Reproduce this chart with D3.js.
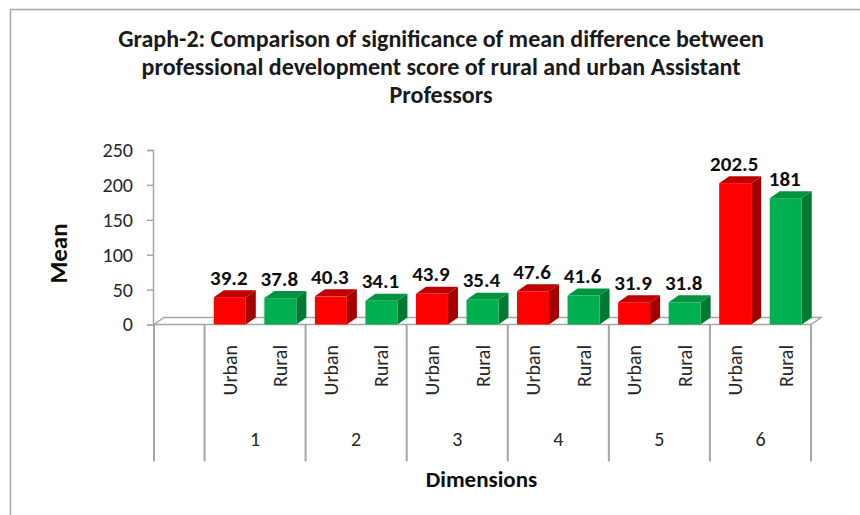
<!DOCTYPE html>
<html>
<head>
<meta charset="utf-8">
<script src="https://cdn.jsdelivr.net/npm/d3@7"></script>
<style>
  html, body { margin: 0; padding: 0; background: #fff; }
  svg { display: block; }
  text { font-family: Calibri, Carlito, Lato, "Open Sans", sans-serif; }
</style>
</head>
<body>
<svg id="chart" width="860" height="515"></svg>
<script>
// ---- data ----
const titleLines = [
  "Graph-2: Comparison of significance of mean difference between",
  "professional development score of rural and urban Assistant",
  "Professors"
];
const dimensions = ["1", "2", "3", "4", "5", "6"];
const groups = ["Urban", "Rural"];
const urbanMeans = [39.2, 40.3, 43.9, 47.6, 31.9, 202.5];
const ruralMeans = [37.8, 34.1, 35.4, 41.6, 31.8, 181];
const yTicks = [0, 50, 100, 150, 200, 250];
const yLabel = "Mean";
const xLabel = "Dimensions";

// ---- build table ----
const rows = [];
dimensions.forEach((d, i) => {
  rows.push({ dim: d, group: groups[0], value: urbanMeans[i], key: d + "-" + groups[0] });
  rows.push({ dim: d, group: groups[1], value: ruralMeans[i], key: d + "-" + groups[1] });
});
const slots = ["blank"].concat(rows.map(r => r.key));

const svg = d3.select("#chart");

// outer border
svg.append("rect").attr("x", 10.5).attr("y", 9.5).attr("width", 870).attr("height", 530)
  .attr("fill", "#fff").attr("stroke", "#a6a6a6").attr("stroke-width", 1.5);

// scales
const x = d3.scaleBand().domain(slots).range([154, 811]).paddingInner(0).paddingOuter(0);
const y = d3.scaleLinear().domain([0, 250]).range([324.5, 150]);
const depthX = 10, depthY = 7;
const barW = 32;

// title
const title = svg.append("g");
titleLines.forEach((t, i) => {
  title.append("text").attr("x", 441).attr("y", 47 + i * 28)
    .attr("text-anchor", "middle").attr("font-size", 24).attr("font-weight", "bold")
    .attr("fill", "#1a1a1a").text(t);
});

// floor (3D base)
const x0 = x.range()[0], x1 = x.range()[1], y0 = y(0);
svg.append("path")
  .attr("d", `M${x0},${y0} L${x0 + depthX},${y0 - depthY} L${x1 + depthX},${y0 - depthY} L${x1},${y0} Z`)
  .attr("fill", "#fff").attr("stroke", "#a6a6a6").attr("stroke-width", 1.5);

// y axis
const yAxis = d3.axisLeft(y).tickValues(yTicks).tickSize(6).tickPadding(14).tickFormat(d3.format("d"));
const ya = svg.append("g").attr("transform", `translate(${x0 - 1},0)`).call(yAxis);
ya.select(".domain").attr("stroke", "#a6a6a6").attr("stroke-width", 1.5);
ya.selectAll(".tick line").attr("stroke", "#a6a6a6").attr("stroke-width", 1.5);
ya.selectAll(".tick text").attr("font-size", 20).attr("fill", "#262626")
  .style("font-family", "Calibri, Carlito, Lato, sans-serif");

// category grid (table-like axis)
const gridBottom = 461.5;
const boundaries = [x0, x("1-Urban")].concat(dimensions.map(d => x(d + "-Rural") + x.bandwidth()));
svg.append("g").selectAll("line").data(boundaries).join("line")
  .attr("x1", d => d).attr("x2", d => d).attr("y1", y0).attr("y2", gridBottom)
  .attr("stroke", "#a6a6a6").attr("stroke-width", 2);

// group labels (Urban/Rural)
svg.append("g").selectAll("text").data(rows).join("text")
  .attr("transform", d => `translate(${x(d.key) + x.bandwidth() / 2},345) rotate(-90)`)
  .attr("text-anchor", "end").attr("dominant-baseline", "central")
  .attr("font-size", 20).attr("fill", "#262626").text(d => d.group);

// dimension labels
svg.append("g").selectAll("text").data(dimensions).join("text")
  .attr("x", d => (x(d + "-Urban") + x(d + "-Rural") + x.bandwidth()) / 2)
  .attr("y", 446).attr("text-anchor", "middle").attr("font-size", 20).attr("fill", "#262626")
  .text(d => d);

// bars
const colors = {
  Urban: { front: "#ff0000", top: "#c00000", side: "#a30000" },
  Rural: { front: "#00b050", top: "#00943f", side: "#007a33" }
};
const bars = svg.append("g").selectAll("g").data(rows).join("g");
bars.each(function (d) {
  const g = d3.select(this);
  const bx = x(d.key) + (x.bandwidth() - barW) / 2;
  const by = y(d.value);
  const c = colors[d.group];
  g.append("path")
    .attr("d", `M${bx + barW},${by} L${bx + barW + depthX},${by - depthY} L${bx + barW + depthX},${y0 - depthY} L${bx + barW},${y0} Z`)
    .attr("fill", c.side);
  g.append("path")
    .attr("d", `M${bx},${by} L${bx + depthX},${by - depthY} L${bx + barW + depthX},${by - depthY} L${bx + barW},${by} Z`)
    .attr("fill", c.top);
  g.append("rect").attr("x", bx).attr("y", by).attr("width", barW).attr("height", y0 - by)
    .attr("fill", c.front);
  g.append("text").attr("x", bx + barW / 2 - 1).attr("y", by - 12.5)
    .attr("text-anchor", "middle").attr("font-size", 21).attr("font-weight", "bold")
    .attr("fill", "#0d0d0d").text(String(d.value));
});

// axis titles
svg.append("text").attr("transform", "translate(58,253.5) rotate(-90)")
  .attr("text-anchor", "middle").attr("dominant-baseline", "central")
  .attr("font-size", 25).attr("font-weight", "bold").attr("fill", "#0d0d0d").text(yLabel);
svg.append("text").attr("x", 481.5).attr("y", 487)
  .attr("text-anchor", "middle").attr("font-size", 23).attr("font-weight", "bold")
  .attr("fill", "#0d0d0d").text(xLabel);
</script>
</body>
</html>
